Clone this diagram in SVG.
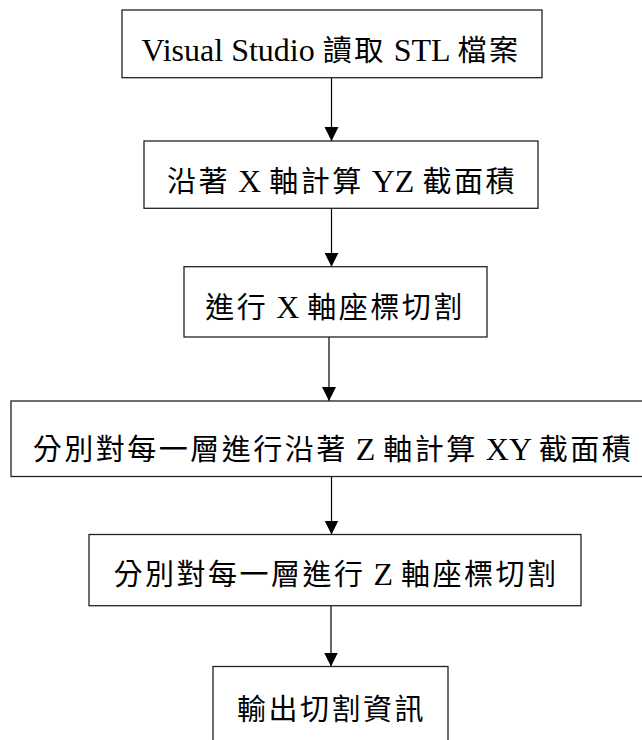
<svg xmlns="http://www.w3.org/2000/svg" width="642" height="740" viewBox="0 0 642 740">
<defs>
<marker id="ah" markerWidth="14" markerHeight="16" refX="14" refY="7" orient="auto" markerUnits="userSpaceOnUse">
<path d="M0,0 L14,7 L0,14 Z" fill="#000"/>
</marker>
<style>
.box{fill:#fff;stroke:#222;stroke-width:1.3}
.lbl{font-family:"Liberation Serif","Noto Sans CJK TC",serif;font-size:32px;fill:#000;text-anchor:middle}
.cj{font-family:"Noto Sans CJK TC",sans-serif;font-size:29px;letter-spacing:2.5px}
.con{stroke:#000;stroke-width:1.2;fill:none}
</style>
</defs>
<rect width="642" height="740" fill="#fff"/>
<g id="connectors">
<line class="con" x1="331.5" y1="77.7" x2="331.5" y2="141" marker-end="url(#ah)"/>
<line class="con" x1="331.5" y1="208.3" x2="331.5" y2="266.7" marker-end="url(#ah)"/>
<line class="con" x1="329" y1="337" x2="329" y2="401" marker-end="url(#ah)"/>
<line class="con" x1="331.5" y1="476.5" x2="331.5" y2="534.5" marker-end="url(#ah)"/>
<line class="con" x1="331" y1="605.7" x2="331" y2="666.5" marker-end="url(#ah)"/>
</g>
<g id="n1">
<rect class="box" x="122" y="10" width="420" height="67.7"/>
<text class="lbl" x="331" y="61">Visual Studio <tspan class="cj">讀取</tspan> STL <tspan class="cj">檔案</tspan></text>
</g>
<g id="n2">
<rect class="box" x="144" y="141" width="394" height="67.3"/>
<text class="lbl" x="342" y="192"><tspan class="cj">沿著</tspan> X <tspan class="cj">軸計算</tspan> YZ <tspan class="cj">截面積</tspan></text>
</g>
<g id="n3">
<rect class="box" x="184" y="266.7" width="303" height="70.3"/>
<text class="lbl" x="335" y="318"><tspan class="cj">進行</tspan> X <tspan class="cj">軸座標切割</tspan></text>
</g>
<g id="n4">
<rect class="box" x="11" y="401" width="640" height="75.5"/>
<text class="lbl" x="333" y="460"><tspan class="cj">分別對每一層進行沿著</tspan> Z <tspan class="cj">軸計算</tspan> XY <tspan class="cj">截面積</tspan></text>
</g>
<g id="n5">
<rect class="box" x="89" y="534.5" width="492" height="71.2"/>
<text class="lbl" x="336" y="585"><tspan class="cj">分別對每一層進行</tspan> Z <tspan class="cj">軸座標切割</tspan></text>
</g>
<g id="n6">
<rect class="box" x="213" y="666.5" width="235" height="90"/>
<text class="lbl" x="331.5" y="720"><tspan class="cj">輸出切割資訊</tspan></text>
</g>
</svg>
